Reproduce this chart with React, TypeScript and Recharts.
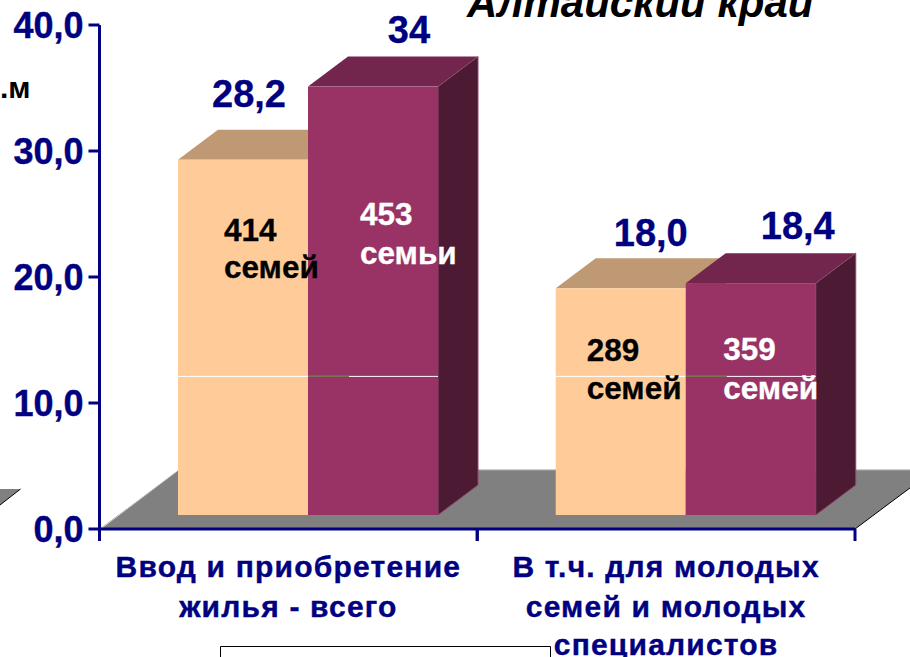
import React from 'react';
import { BarChart, Bar, XAxis, YAxis, ReferenceArea, LabelList } from 'recharts';

const categories = [['Ввод и приобретение', 'жилья - всего'], ['В т.ч. для молодых', 'семей и молодых', 'специалистов']];
const series2009 = [28.2, 18.0];
const series2010 = [34, 18.4];
const valueLabelsA = ['28,2', '18,0'];
const valueLabelsB = ['34', '18,4'];
const familiesA = [['414', 'семей'], ['289', 'семей']];
const familiesB = [['453', 'семьи'], ['359', 'семей']];
const yTicks = [0, 10, 20, 30, 40];
const rows = categories.map((c, i) => ({ name: c.join(' '), a: series2009[i], b: series2010[i] }));

const NAVY = '#000080';
const FONT = '"Liberation Sans", Arial, sans-serif';
const SHIFT_X = 19.5;
const SHIFT_Y = 14;
const DEPTH_X = 40;
const DEPTH_Y = 30;
const SEAM = 11;

const makeBar = (front: string, top: string, side: string, edge: string, olive: boolean) => (p: any) => {
  const x = p.x + SHIFT_X;
  const y = p.y - SHIFT_Y;
  const w = p.width;
  const h = p.height;
  const seamY = y + h - (h / p.value) * SEAM;
  return (
    <g>
      <polygon points={`${x},${y} ${x + DEPTH_X},${y - DEPTH_Y} ${x + w + DEPTH_X},${y - DEPTH_Y} ${x + w},${y}`} fill={top} />
      <polygon points={`${x + w},${y} ${x + w + DEPTH_X},${y - DEPTH_Y} ${x + w + DEPTH_X},${y + h - DEPTH_Y} ${x + w},${y + h}`} fill={side} stroke={edge} strokeWidth={olive ? 1 : 0} />
      <rect x={x} y={y} width={w} height={h} fill={front} />
      <line x1={x} x2={x + w} y1={seamY} y2={seamY} stroke="#FFFFFF" strokeWidth={1} />
      {olive && <line x1={x} x2={x + DEPTH_X + 1} y1={seamY} y2={seamY} stroke="#66663F" strokeWidth={1} />}
    </g>
  );
};

const Floor = (p: any) => {
  const left = p.x;
  const right = p.x + p.width;
  const base = p.y + p.height;
  const top = p.y;
  const dx = (base - top) * (79 / 59);
  return (
    <g>
      <polygon points={`${left},${base} ${left + dx},${top} ${right + dx},${top} ${right},${base}`} fill="#808080" />
      <line x1={left + 1} y1={base} x2={left + dx} y2={top} stroke="#D8D8D8" strokeWidth={1} />
      <line x1={left + dx} y1={top} x2={right + dx} y2={top} stroke="#C8C8C8" strokeWidth={1} />
      <line x1={right} y1={base} x2={right + dx} y2={top} stroke="#000000" strokeWidth={1} />
      <polygon points={`0,489 20.5,489 0,505`} fill="#808080" />
      <line x1={0} y1={505} x2={20.5} y2={489} stroke="#000000" strokeWidth={1} />
    </g>
  );
};

const XTick = (p: any) => {
  const half = p.width / categories.length / 2;
  const lines = categories[p.index] || [];
  const baselines = [577, 617, 655];
  return (
    <g>
      {[-half, half].map((d) => (
        <line key={d} x1={p.x + d} x2={p.x + d} y1={529} y2={541} stroke={NAVY} strokeWidth={3} />
      ))}
      {lines.map((t: string, i: number) => (
        <text key={t} x={p.x} y={baselines[i]} textAnchor="middle" fontFamily={FONT} fontWeight="bold" fontSize={30} letterSpacing={1.2} fill={NAVY} stroke={NAVY} strokeWidth={0.4}>{t}</text>
      ))}
    </g>
  );
};

const valueOffset = [[[6, -53], [30, -42]], [[36, -44], [47, -44]]];
const famOffset = [[[46, 81, 118], [31, 73, 111]], [[52, 138, 177], [37.5, 77, 116]]];

const overlay = (p: any) => {
  const i = p.index;
  const vb = p.viewBox || p;
  const w = vb.width;
  const k = vb.height / series2010[i];
  const bottom = vb.y + vb.height - SHIFT_Y;
  const frontB = vb.x + SHIFT_X;
  const frontA = frontB - w;
  const topA = bottom - series2009[i] * k;
  const topB = bottom - series2010[i] * k;
  const txt = (s: string, x: number, y: number, fill: string, size: number, anchor = 'start') => (
    <text key={s + x + y} x={x} y={y} fontFamily={FONT} fontWeight="bold" fontSize={size} fill={fill} stroke={fill} strokeWidth={0.3} textAnchor={anchor}>{s}</text>
  );
  const [fa, fb] = [famOffset[0][i], famOffset[1][i]];
  return (
    <g>
      {txt(valueLabelsA[i], frontA + w / 2 + valueOffset[0][i][0], topA + valueOffset[0][i][1], NAVY, 38, 'middle')}
      {txt(valueLabelsB[i], frontB + w / 2 + valueOffset[1][i][0], topB + valueOffset[1][i][1], NAVY, 38, 'middle')}
      {txt(familiesA[i][0], frontA + fa[0], topA + fa[1], '#000000', 31.5)}
      {txt(familiesA[i][1], frontA + fa[0], topA + fa[2], '#000000', 31.5)}
      {txt(familiesB[i][0], frontB + fb[0], topB + fb[1], '#FFFFFF', 31.5)}
      {txt(familiesB[i][1], frontB + fb[0], topB + fb[2], '#FFFFFF', 31.5)}
    </g>
  );
};

export default function App() {
  return (
    <div style={{ position: 'absolute', left: 0, top: 0, width: 910, height: 657, overflow: 'hidden', background: '#fff' }}>
      <BarChart width={910} height={657} data={rows} barSize={130} barGap={0} barCategoryGap={0}
        margin={{ top: 25, right: 55, left: 0, bottom: 0 }} style={{ fontFamily: FONT }}>
        <XAxis dataKey="name" height={128} interval={0} axisLine={{ stroke: NAVY, strokeWidth: 3 }} tickLine={false} tick={<XTick />} />
        <YAxis width={99.5} domain={[0, 40]} ticks={yTicks} interval={0} tickSize={11} tickMargin={5}
          axisLine={{ stroke: NAVY, strokeWidth: 3 }} tickLine={{ stroke: NAVY, strokeWidth: 3 }}
          tick={{ fill: NAVY, stroke: NAVY, strokeWidth: 0.4, fontSize: 36, fontWeight: 'bold', fontFamily: FONT }}
          tickFormatter={(v: number) => v.toFixed(1).replace('.', ',')} />
        <ReferenceArea y1={0} y2={4.7} ifOverflow="visible" shape={<Floor />} />
        <Bar dataKey="a" isAnimationActive={false} shape={makeBar('#FFCC99', '#BF9973', '#805F4D', '#805F4D', false)} />
        <Bar dataKey="b" isAnimationActive={false} shape={makeBar('#993366', '#73264D', '#4D1A33', '#8A4A6C', true)}>
          <LabelList dataKey="b" content={overlay} />
        </Bar>
        <text x={467} y={17} fontFamily={FONT} fontWeight="bold" fontStyle="italic" fontSize={42} fill="#000000">Алтайский край</text>
        <text x={0} y={98} fontFamily={FONT} fontWeight="bold" fontSize={30} fill="#000000">.м</text>
        <path d="M220.5,657 V646.5 H550.5 V657" fill="none" stroke="#000000" strokeWidth={1} />
      </BarChart>
    </div>
  );
}
